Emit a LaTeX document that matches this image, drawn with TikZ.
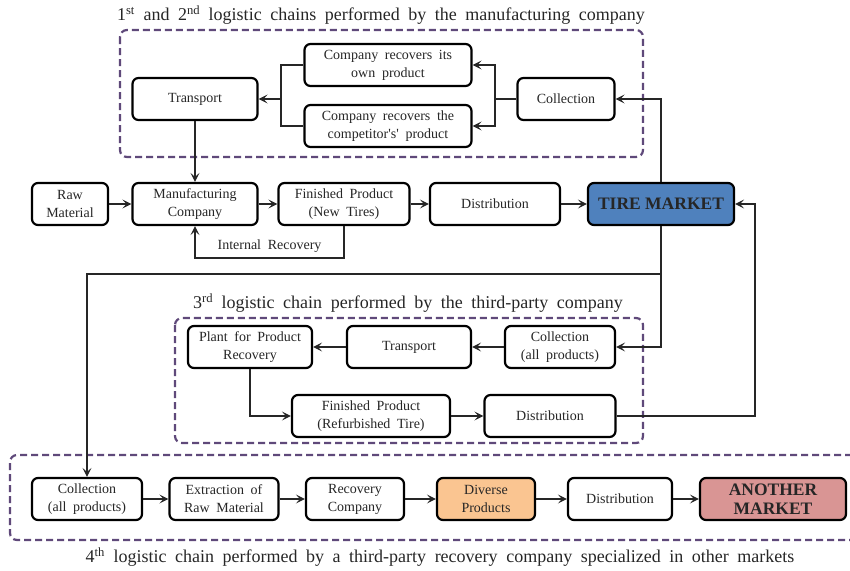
\documentclass[tikz,border=0pt]{standalone}
\usepackage{fontspec}
\setmainfont{Liberation Serif}
\newfontfamily\widefont{Liberation Serif}[WordSpace=1.9]
\usetikzlibrary{arrows.meta}
\definecolor{grpc}{HTML}{5F497A}
\definecolor{tireblue}{HTML}{4F81BD}
\definecolor{divorange}{HTML}{FAC591}
\definecolor{anotherred}{HTML}{D99594}
\tikzset{
  box/.style={draw=black, line width=2.2pt, rounded corners=6pt, fill=white,
    align=center, inner sep=1pt, minimum height=42pt,
    font=\widefont\fontsize{14}{18}\selectfont, text=black!85},
  bigbox/.style={box, font=\rmfamily\fontsize{17.5}{19}\selectfont\bfseries},
  grp/.style={draw=grpc, line width=2.2pt, dash pattern=on 7pt off 4pt, rounded corners=7pt},
  arr/.style={draw=black!85, line width=1.4pt, -{Stealth[length=9pt,width=9pt,inset=4pt]}},
  ln/.style={draw=black!85, line width=1.4pt},
  ttl/.style={font=\widefont\fontsize{18}{20}\selectfont, text=black!85},
  lbl/.style={font=\widefont\fontsize{14}{16}\selectfont, text=black!85}
}
\begin{document}
\begin{tikzpicture}[x=1pt,y=-1pt]
\useasboundingbox (0,0) rectangle (850,570);
% group frames
\draw[grp] (120,30) rectangle (643,157);
\draw[grp] (175,318) rectangle (643,443);
\draw[grp] (852,455) -- (10,455) -- (10,540) -- (852,540);
% titles
\node[ttl] (t1) at (381,15) {1\textsuperscript{st} and 2\textsuperscript{nd} logistic chains performed by the manufacturing company};
\node[ttl] (t3) at (408,303) {3\textsuperscript{rd} logistic chain performed by the third-party company};
\node[ttl] (t4) at (440,557) {4\textsuperscript{th} logistic chain performed by a third-party recovery company specialized in other markets};
% chain 1-2
\node[box, minimum width=125pt] (trans1) at (195,99) {Transport};
\node[box, minimum width=167pt] (own) at (388,65) {Company recovers its\\own product};
\node[box, minimum width=167pt] (comp) at (388,126) {Company recovers the\\competitor's' product};
\node[box, minimum width=97pt] (coll1) at (566,99) {Collection};
% main row
\node[box, minimum width=76pt] (raw) at (70,204) {Raw\\Material};
\node[box, minimum width=125pt] (manu) at (195,204) {Manufacturing\\Company};
\node[box, minimum width=131pt] (fin) at (344,204) {Finished Product\\(New Tires)};
\node[box, minimum width=130pt] (dist) at (495,204) {Distribution};
\node[bigbox, minimum width=146pt, fill=tireblue] (tire) at (661,204) {TIRE MARKET};
% chain 3
\node[box, minimum width=124pt] (plant) at (250,347) {Plant for Product\\Recovery};
\node[box, minimum width=124pt] (trans3) at (409,347) {Transport};
\node[box, minimum width=110pt] (coll3) at (560,347) {Collection\\(all products)};
\node[box, minimum width=158pt] (fin3) at (371,416) {Finished Product\\(Refurbished Tire)};
\node[box, minimum width=131pt] (dist3) at (550,416) {Distribution};
% chain 4
\node[box, minimum width=110pt] (coll4) at (87,499) {Collection\\(all products)};
\node[box, minimum width=109pt] (extr) at (224,499) {Extraction of\\Raw Material};
\node[box, minimum width=98pt] (reco) at (355,499) {Recovery\\Company};
\node[box, minimum width=98pt, fill=divorange] (div) at (486,499) {Diverse\\Products};
\node[box, minimum width=104pt] (dist4) at (620,499) {Distribution};
\node[bigbox, minimum width=146pt, fill=anotherred] (another) at (773,499) {ANOTHER\\MARKET};
% coordinates
\coordinate (br1) at (495,99);
\coordinate (br2) at (281,99);
\coordinate (ir) at (344,258);
\coordinate (down1) at (661,274);
\coordinate (rr) at (755,416);
% connectors chain 1-2
\draw[arr] (tire.north) |- (coll1.east);
\draw[ln] (coll1.west) -- (br1);
\draw[arr] (br1) |- (own.east);
\draw[arr] (br1) |- (comp.east);
\draw[ln] (own.west) -| (br2);
\draw[ln] (comp.west) -| (br2);
\draw[arr] (br2) -- (trans1.east);
\draw[arr] (trans1.south) -- (manu.north);
% main row
\draw[arr] (raw) -- (manu);
\draw[arr] (manu) -- (fin);
\draw[arr] (fin) -- (dist);
\draw[arr] (dist) -- (tire);
\draw[arr] (fin.south) -- (ir) -| node[pos=0.25, above, lbl, yshift=1pt] (irl) {Internal Recovery} (manu.south);
% from tire market downward
\draw[arr] (tire.south) -- (down1) -| (coll4.north);
\draw[arr] (down1) |- (coll3.east);
\draw[arr] (dist3.east) -- (rr) |- (tire.east);
% chain 3
\draw[arr] (coll3) -- (trans3);
\draw[arr] (trans3) -- (plant);
\draw[arr] (plant.south) |- (fin3.west);
\draw[arr] (fin3) -- (dist3);
% chain 4
\draw[arr] (coll4) -- (extr);
\draw[arr] (extr) -- (reco);
\draw[arr] (reco) -- (div);
\draw[arr] (div) -- (dist4);
\draw[arr] (dist4) -- (another);
\end{tikzpicture}
\end{document}
